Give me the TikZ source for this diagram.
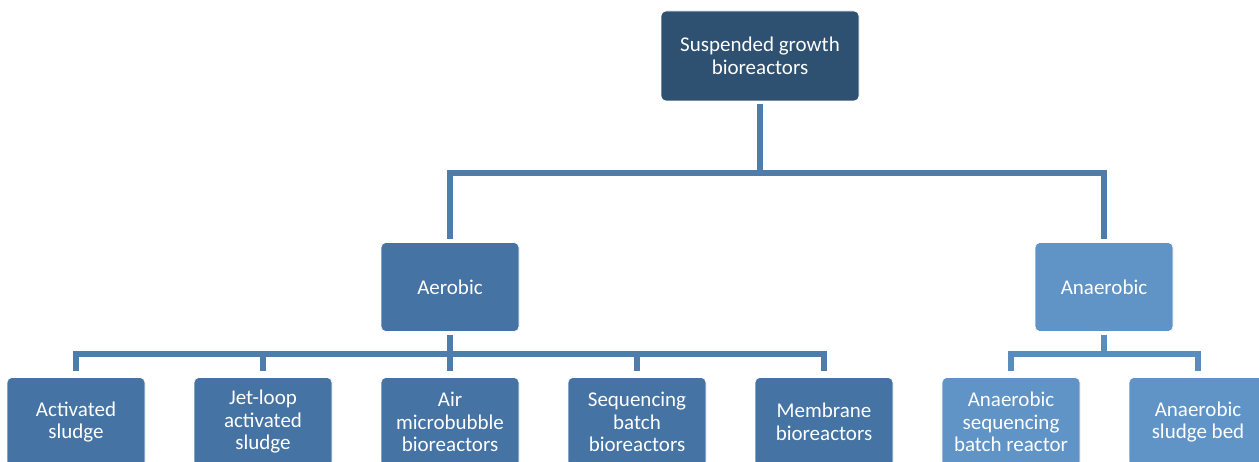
\documentclass[tikz,border=0pt]{standalone}
\usepackage{fontspec}
\setmainfont{Carlito}
\definecolor{topc}{RGB}{46,80,113}
\definecolor{aerc}{RGB}{69,115,163}
\definecolor{anac}{RGB}{96,148,198}
\definecolor{linea}{RGB}{78,124,171}
\definecolor{lineb}{RGB}{91,140,190}
\begin{document}
\begin{tikzpicture}[x=1pt,y=-1pt,
  box/.style={rounded corners=5pt, minimum width=138pt, minimum height=89pt, inner sep=2pt,
    text=white, align=center, font=\fontsize{21}{22.5}\selectfont, draw=white, line width=0.6pt},
  conn/.style={line width=5.5pt, draw=linea},
  connb/.style={line width=5.5pt, draw=lineb}]
\useasboundingbox (0,0) rectangle (1259,462);
\clip (0,0) rectangle (1259,462);
\node[box, fill=topc, minimum width=198pt, minimum height=90pt] (top) at (760,56) {Suspended growth\\bioreactors};
\node[box, fill=aerc] (aer) at (450,287) {Aerobic};
\node[box, fill=anac] (ana) at (1104,287) {Anaerobic};
\node[box, fill=aerc] (b1) at (76,422) {Activated\\sludge};
\node[box, fill=aerc] (b2) at (263,422) {Jet-loop\\activated\\sludge};
\node[box, fill=aerc] (b3) at (450,422) {Air\\microbubble\\bioreactors};
\node[box, fill=aerc] (b4) at (637,422) {Sequencing\\batch\\bioreactors};
\node[box, fill=aerc] (b5) at (824,422) {Membrane\\bioreactors};
\node[box, fill=anac] (b6) at (1011,422) {Anaerobic\\sequencing\\batch reactor};
\node[box, fill=anac] (b7) at (1198,422) {Anaerobic\\sludge bed};
\coordinate (j1) at (760,173);
\coordinate (j2) at (450,354);
\coordinate (j3) at (1104,354);
\draw[conn, shorten <=3pt] (top.south) -- (j1);
\draw[conn, shorten >=3pt] (j1) -| (aer.north);
\draw[conn, shorten >=3pt] (j1) -| (ana.north);
\draw[conn, shorten <=3pt] (aer.south) -- (j2);
\foreach \b in {b1,b2,b3,b4,b5} \draw[conn, shorten >=6pt] (j2) -| (\b.north);
\draw[connb, shorten <=3pt] (ana.south) -- (j3);
\foreach \b in {b6,b7} \draw[connb, shorten >=6pt] (j3) -| (\b.north);
\end{tikzpicture}
\end{document}
